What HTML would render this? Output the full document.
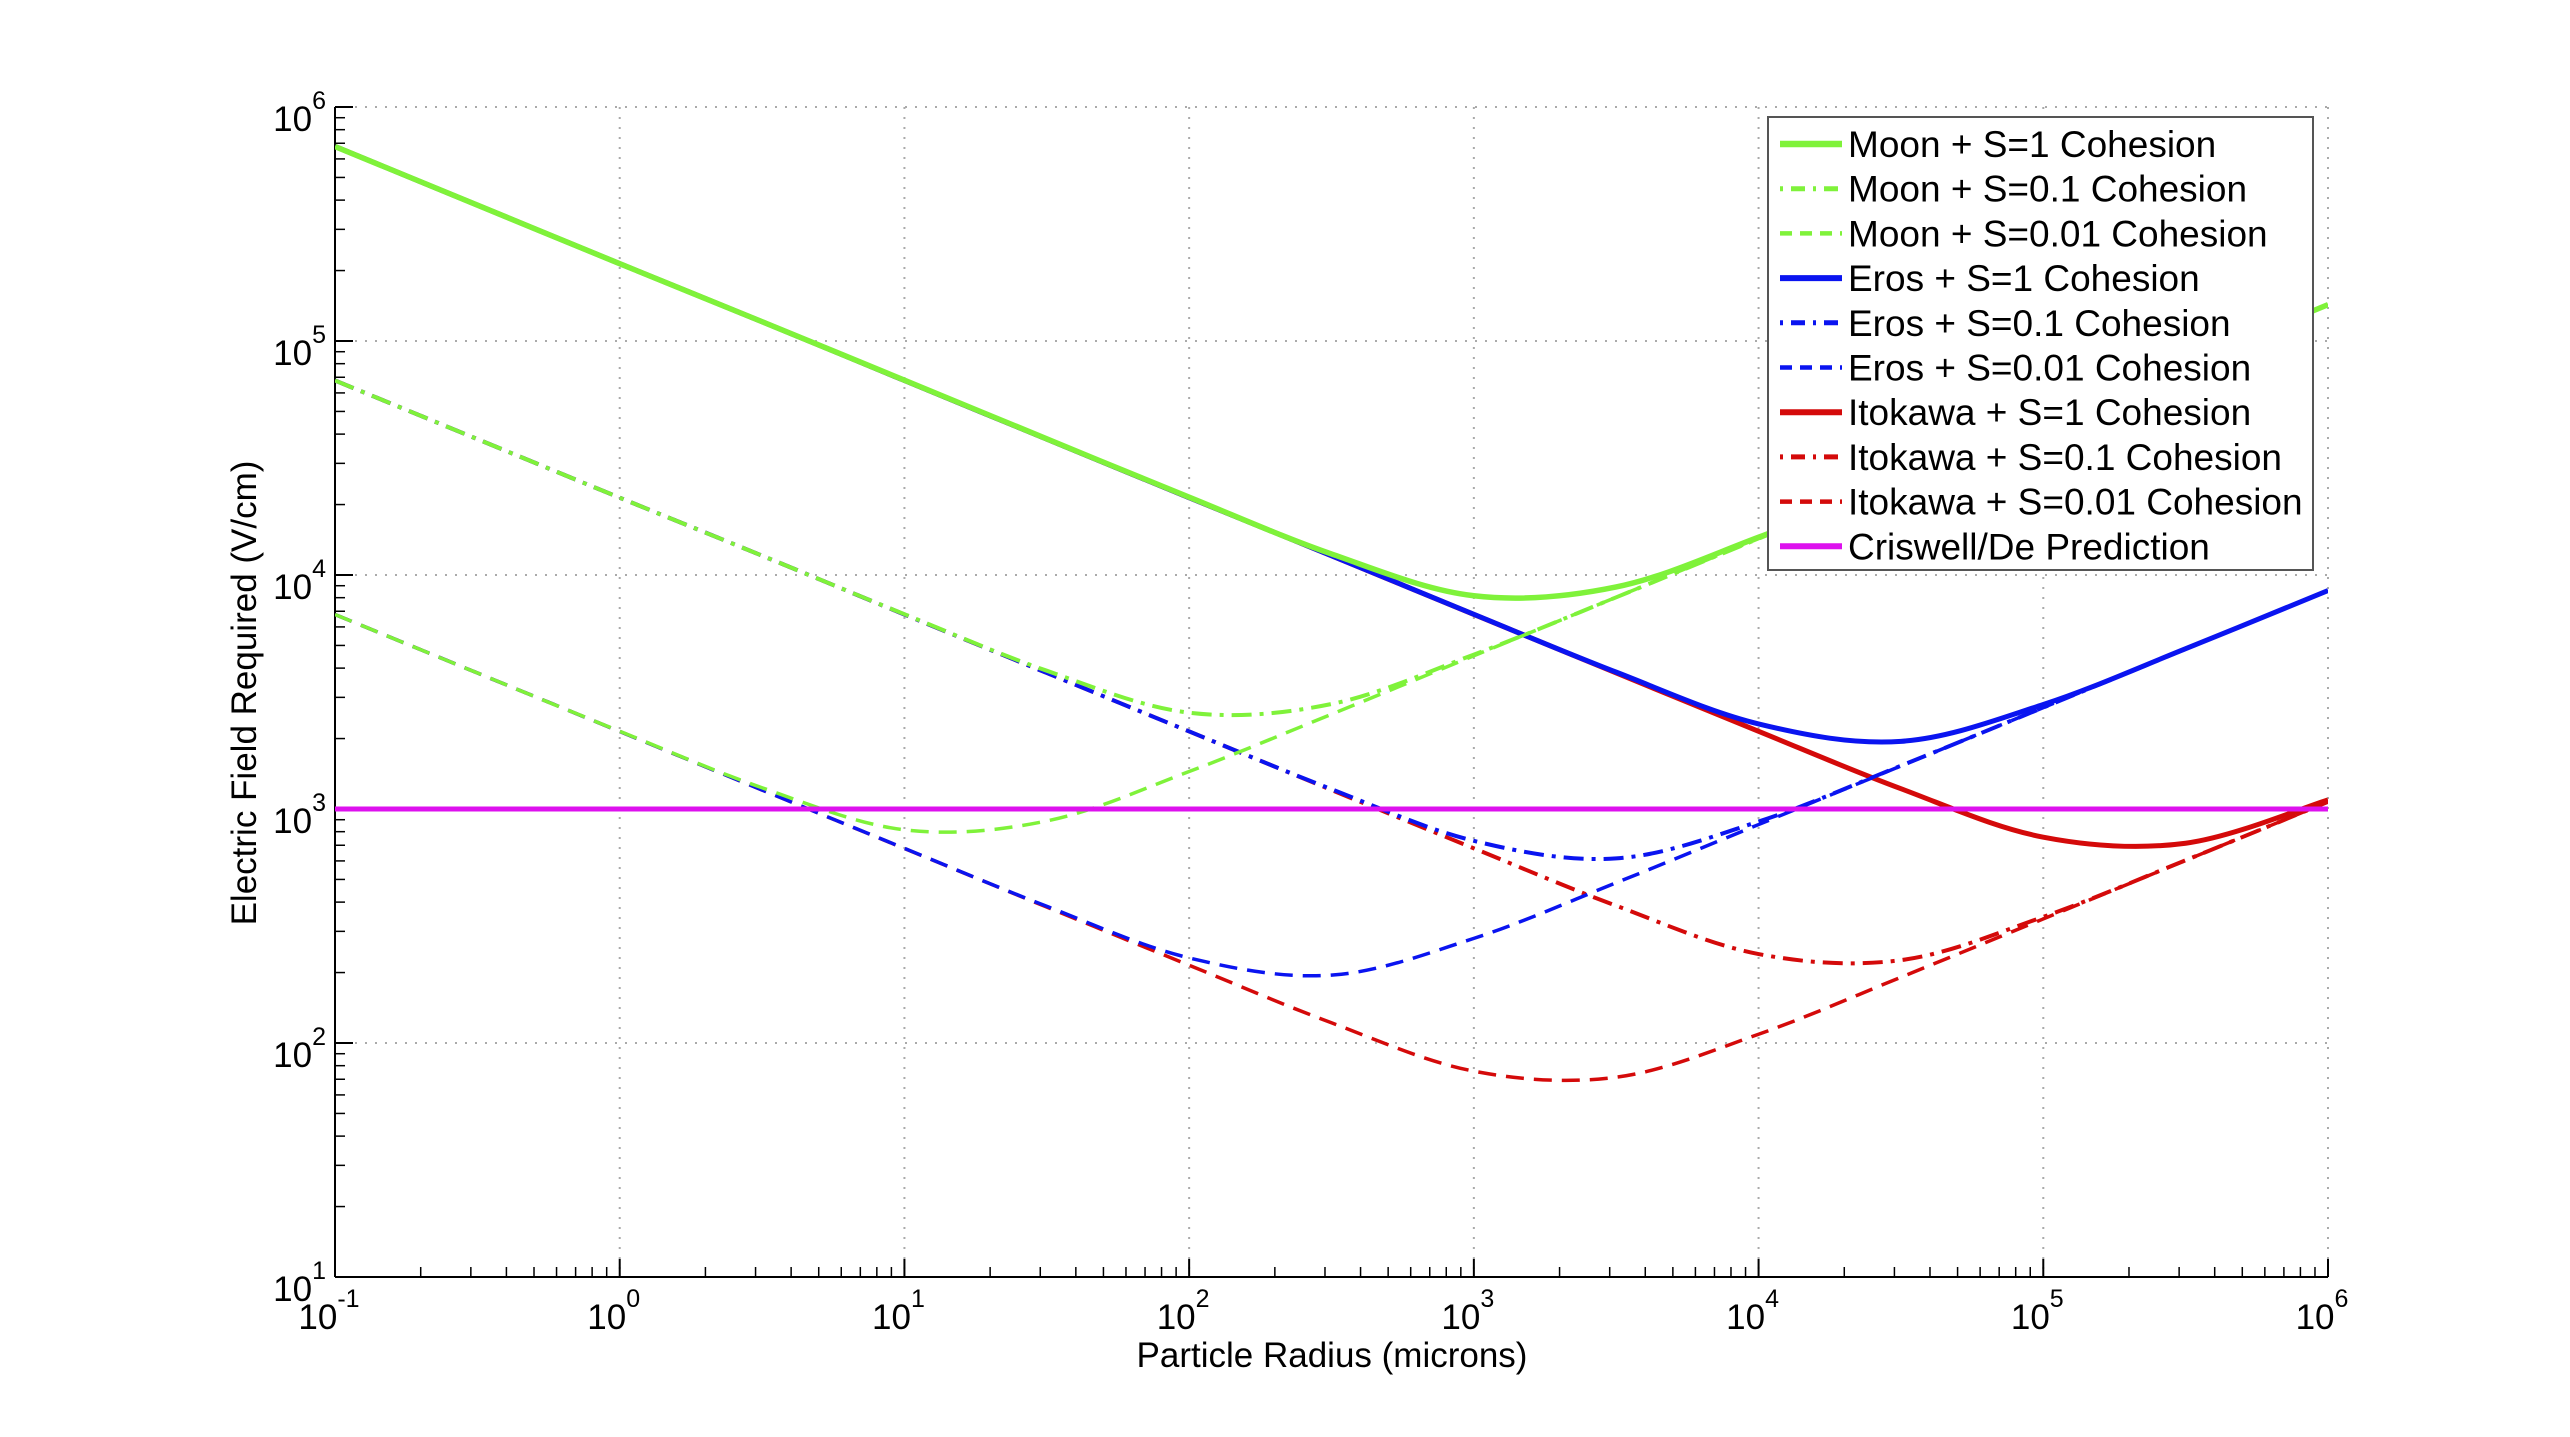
<!DOCTYPE html>
<html><head><meta charset="utf-8"><style>
html,body{margin:0;padding:0;background:#fff;}
svg{display:block;font-family:"Liberation Sans",Arial,sans-serif;}
</style></head><body>
<svg id="chart" width="2570" height="1437" viewBox="0 0 2570 1437" xmlns="http://www.w3.org/2000/svg">
<defs><clipPath id="plotclip"><rect x="335" y="107" width="1993" height="1170"/></clipPath></defs>
<rect width="2570" height="1437" fill="#fff"/>
<g id="grid"></g>
<g id="axes"></g>
<g id="series" clip-path="url(#plotclip)"></g>
<g id="legend"></g>
<text x="1332" y="1367" font-size="35" text-anchor="middle">Particle Radius (microns)</text>
<text x="0" y="0" font-size="35" text-anchor="middle" transform="translate(256,693) rotate(-90)">Electric Field Required (V/cm)</text>
</svg>
<script>
const radii = [0.1,0.316,1,3.16,10,31.6,100,316,1000,3162,10000,31620,100000,316200,1000000];
const moonS1 = [678000,381000,214000,121000,68000,38200,21500,12300,8150,8890,14500,25400,45200,80300,143000];
const moonS01 = [67800,38100,21400,12100,6800,3900,2580,2810,4570,8030,14300,25400,45200,80300,143000];
const moonS001 = [6780,3815,2150,1233,815,889,1446,2540,4517,8031,14300,25400,45200,80300,143000];
const erosS1 = [678000,381000,214000,121000,67800,38100,21400,12100,6790,3845,2310,1946,2796,4842,8582];
const erosS01 = [67800,38100,21400,12100,6780,3815,2146,1216,731,615,884,1531,2714,4827,8579];
const erosS001 = [6780,3815,2145,1206,679,384,231,195,280,484,858,1527,2713,4827,8579];
const itoS1 = [678000,381000,214000,121000,67800,38100,21400,12100,6782,3815,2147,1221,758,714,1094];
const itoS01 = [67800,38100,21400,12100,6780,3815,2145,1206,679,386,240,226,346,604,1073];
const itoS001 = [6780,3815,2145,1206,678,381,215,122,75.8,71.4,109,191,339,603,1072];
const criswell = [1000,1000];
const criswellX = [0.1,1000000];
const xTicks = [-1,0,1,2,3,4,5,6];
const yTicks = [1,2,3,4,5,6];

const NS='http://www.w3.org/2000/svg';
const L=335,R=2328,T=107,B=1277;
const xMin=-1,xMax=6,yMin=1,yMax=6;
function xs(v){return L+(Math.log10(v)-xMin)/(xMax-xMin)*(R-L);}
function ys(v){return B-(Math.log10(v)-yMin)/(yMax-yMin)*(B-T);}
function mk(tag,attrs,parent){const e=document.createElementNS(NS,tag);for(const k in attrs)e.setAttribute(k,attrs[k]);parent.appendChild(e);return e;}

const grid=document.getElementById('grid'),axes=document.getElementById('axes');
xTicks.forEach(k=>{
  const x=xs(Math.pow(10,k));
  if(k>xMin){const g=mk('line',{x1:x,y1:T,x2:x,y2:B,stroke:'#aaa','stroke-width':2,'stroke-dasharray':'2 8'},grid);
  
  }
  const t=mk('line',{x1:x,y1:B,x2:x,y2:B-18,stroke:'#000','stroke-width':2},axes);
  
  
  if(k<xMax){for(let m=2;m<10;m++){const mx=xs(m*Math.pow(10,k));
    const mt=mk('line',{x1:mx,y1:B,x2:mx,y2:B-10,stroke:'#000','stroke-width':1.5},axes);
    
    }}
  const lb=mk('text',{x:x-6,y:1329,'font-size':35,'text-anchor':'middle'},axes);
  
  
  lb.innerHTML='10<tspan dy="-22" font-size="25">'+k+'</tspan>';
});
yTicks.forEach(k=>{
  const y=ys(Math.pow(10,k));
  if(k>yMin){const g=mk('line',{x1:L,y1:y,x2:R,y2:y,stroke:'#aaa','stroke-width':2,'stroke-dasharray':'2 8'},grid);
  
  }
  const t=mk('line',{x1:L,y1:y,x2:L+18,y2:y,stroke:'#000','stroke-width':2},axes);
  
  
  if(k<yMax){for(let m=2;m<10;m++){const my=ys(m*Math.pow(10,k));
    const mt=mk('line',{x1:L,y1:my,x2:L+10,y2:my,stroke:'#000','stroke-width':1.5},axes);
    
    }}
  const lb=mk('text',{x:326,y:y+24,'font-size':35,'text-anchor':'end'},axes);
  
  
  lb.innerHTML='10<tspan dy="-22" font-size="25">'+k+'</tspan>';
});
const ax1=mk('line',{x1:L,y1:T,x2:L,y2:B,stroke:'#000','stroke-width':2},axes);


const ax2=mk('line',{x1:L,y1:B,x2:R,y2:B,stroke:'#000','stroke-width':2},axes);



function pathFor(xv,yv){
  const p=xv.map((v,i)=>[xs(v),ys(yv[i])]);
  let d='M'+p[0][0]+','+p[0][1];
  for(let i=0;i<p.length-1;i++){
    const p0=p[i-1]||p[i],p1=p[i],p2=p[i+1],p3=p[i+2]||p2;
    const c1=[p1[0]+(p2[0]-p0[0])/6,p1[1]+(p2[1]-p0[1])/6];
    const c2=[p2[0]-(p3[0]-p1[0])/6,p2[1]-(p3[1]-p1[1])/6];
    d+=' C'+c1[0]+','+c1[1]+' '+c2[0]+','+c2[1]+' '+p2[0]+','+p2[1];
  }
  return d;
}
const GREEN='#7ff23a',BLUE='#0a14f0',RED='#d40a0a',MAG='#dd11ee';
const DASH='18 10',DASHDOT='20 8 4 8';
const series=[
 ['moon-s1-line','Moon + S=1 Cohesion',moonS1,GREEN,5.5,null],
 ['moon-s01-line','Moon + S=0.1 Cohesion',moonS01,GREEN,4,DASHDOT],
 ['moon-s001-line','Moon + S=0.01 Cohesion',moonS001,GREEN,3.5,DASH],
 ['eros-s1-line','Eros + S=1 Cohesion',erosS1,BLUE,5,null],
 ['eros-s01-line','Eros + S=0.1 Cohesion',erosS01,BLUE,4,DASHDOT],
 ['eros-s001-line','Eros + S=0.01 Cohesion',erosS001,BLUE,3.5,DASH],
 ['itokawa-s1-line','Itokawa + S=1 Cohesion',itoS1,RED,5,null],
 ['itokawa-s01-line','Itokawa + S=0.1 Cohesion',itoS01,RED,4,DASHDOT],
 ['itokawa-s001-line','Itokawa + S=0.01 Cohesion',itoS001,RED,3.5,DASH]
];
const sg=document.getElementById('series');
series.slice().reverse().forEach(s=>{
  const a={d:pathFor(radii,s[2]),fill:'none',stroke:s[3],'stroke-width':s[4],'stroke-linejoin':'round'};
  if(s[5])a['stroke-dasharray']=s[5];
  const e=mk('path',a,sg);
  
  
});
const cl=mk('line',{x1:xs(criswellX[0]),y1:ys(criswell[0]),x2:xs(criswellX[1]),y2:ys(criswell[1]),stroke:MAG,'stroke-width':5},sg);



const lg=document.getElementById('legend');
const box=mk('rect',{x:1768,y:117,width:545,height:453,fill:'#fff',stroke:'#555','stroke-width':2},lg);


const entries=series.map(s=>[s[1],s[3],s[4],s[5]]).concat([['Criswell/De Prediction',MAG,5,null]]);
entries.forEach((en,i)=>{
  const y=144+i*44.7;
  const g=mk('g',{},lg);
  
  
  const a={x1:1780,y1:y,x2:1842,y2:y,stroke:en[1],'stroke-width':en[2]+1};
  if(en[3])a['stroke-dasharray']=en[3]==DASH?'12 8':'3 8 14 8';
  const ln=mk('line',a,g);
  
  
  const tx=mk('text',{x:1848,y:y+13,'font-size':37},g);
  
  
  tx.textContent=en[0];
});
</script>
</body></html>
